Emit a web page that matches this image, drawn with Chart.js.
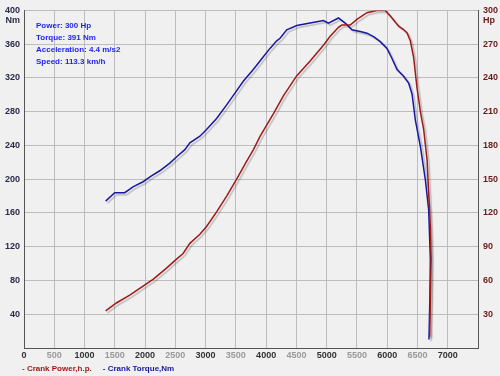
<!DOCTYPE html>
<html><head><meta charset="utf-8">
<script src="https://cdn.jsdelivr.net/npm/chart.js@4.4.1/dist/chart.umd.min.js"></script>
<style>html,body{margin:0;padding:0;background:#f0f0f0;overflow:hidden}</style>
</head><body>
<canvas id="c" width="500" height="376"></canvas>
<script>
// ---- data ----
const rpmTicks = [0,500,1000,1500,2000,2500,3000,3500,4000,4500,5000,5500,6000,6500,7000];
const torqueRpm = [1349,1498,1664,1801,1967,2106,2243,2409,2546,2657,2740,2906,3016,3182,3348,3485,3622,3788,3954,4064,4175,4230,4341,4507,4727,4947,5030,5195,5306,5417,5555,5665,5775,5886,5996,6079,6162,6271,6354,6410,6465,6548,6631,6685,6713,6705,6690];
const torqueNm  = [174,184,184,191,197,204,210,219,228,235,243,251,259,272,288,302,316,330,345,355,364,367,377,382,385,388,385,391,385,377,375,373,369,363,355,343,330,322,314,301,270,239,199,164,105,60,10];
const powerRpm = [1349,1526,1747,1967,2132,2354,2520,2629,2740,2906,3016,3182,3348,3457,3513,3679,3788,3899,4119,4285,4507,4727,4947,5058,5195,5252,5389,5500,5665,5831,5968,6051,6189,6271,6328,6382,6437,6493,6548,6603,6659,6685,6713,6725,6702];
const powerHp  = [33,40,47,55,61,71,79,84,93,101,108,121,135,145,150,166,176,188,208,224,242,255,269,277,285,287,287,292,298,300,300,295,286,283,280,273,258,231,210,194,167,138,108,79,10];
const infoLines = ['Power: 300 Hp','Torque: 391 Nm','Acceleration: 4.4 m/s2','Speed: 113.3 km/h'];
const legendItems = [{text:'- Crank Power,h.p.', color:'#a01818'},{text:'- Crank Torque,Nm', color:'#1818a0'}];

const FONT = "'Liberation Sans', Arial, sans-serif";
const torquePts = torqueRpm.map((r,i)=>({x:r,y:torqueNm[i]}));
const powerPts = powerRpm.map((r,i)=>({x:r,y:powerHp[i]}));

const shadowPlugin = {
  id:'shadow',
  beforeDatasetDraw(chart){ const c=chart.ctx; c.save(); c.shadowColor='rgba(0,0,0,0.22)'; c.shadowOffsetX=2; c.shadowOffsetY=2; c.shadowBlur=1; },
  afterDatasetDraw(chart){ chart.ctx.restore(); }
};
const bgPlugin = {
  id:'bg',
  beforeDraw(chart){ const c=chart.ctx; c.save(); c.fillStyle='#f0f0f0'; c.fillRect(0,0,chart.width,chart.height); c.restore(); }
};
const textPlugin = {
  id:'texts',
  afterDraw(chart){
    const c=chart.ctx, a=chart.chartArea;
    c.save();
    c.textBaseline='middle';
    c.font = "bold 8px " + FONT;
    c.fillStyle='#1f1ff5';
    c.textAlign='left';
    infoLines.forEach((t,i)=>c.fillText(t, 36, 26 + i*12));
    // unit labels under top ticks
    c.font = "bold 9px " + FONT;
    c.textAlign='right'; c.fillStyle='#2a2a4a';
    c.fillText('Nm', a.left-4, a.top+10);
    c.textAlign='left'; c.fillStyle='#6a1a1a';
    c.fillText('Hp', a.right+5, a.top+10);
    // legend
    c.font = "bold 8px " + FONT;
    let x = 22;
    legendItems.forEach(it=>{ c.fillStyle=it.color; c.fillText(it.text, x, 369); x += c.measureText(it.text).width + 11; });
    c.restore();
  }
};

new Chart(document.getElementById('c'), {
  type:'line',
  data:{ datasets:[
    {label:'Crank Power,h.p.', data:powerPts, yAxisID:'y1', borderColor:'#a01818', borderWidth:1.5, pointRadius:0, tension:0, fill:false},
    {label:'Crank Torque,Nm', data:torquePts, yAxisID:'y', borderColor:'#1818a0', borderWidth:1.5, pointRadius:0, tension:0, fill:false}
  ]},
  options:{
    responsive:false, animation:false, devicePixelRatio:1,
    layout:{padding:{top:10,bottom:17,left:0,right:0}},
    plugins:{legend:{display:false}, tooltip:{enabled:false}},
    scales:{
      x:{type:'linear', min:0, max:7500,
        afterBuildTicks(s){ s.ticks = rpmTicks.concat([7500]).map(v=>({value:v})); },
        afterFit(s){ s.height = 11; },
        grid:{color:'#bdbdbd', drawTicks:false, lineWidth:1},
        border:{color:'#555', width:1},
        ticks:{autoSkip:false, maxRotation:0, padding:2, font:{family:FONT, size:9, weight:'bold'},
          color:(ctx)=> (ctx.tick && ctx.tick.value % 1000 === 0) ? '#333' : '#999',
          callback:(v)=> v===7500 ? '' : String(v)}
      },
      y:{position:'left', min:0, max:400,
        ticks:{stepSize:40, padding:4, font:{family:FONT, size:9, weight:'bold'}, color:'#2a2a4a',
          callback:(v)=> v===0 ? '' : String(v)},
        afterFit(s){ s.width = 24; },
        grid:{color:'#bdbdbd', drawTicks:false},
        border:{color:'#555', width:1}
      },
      y1:{position:'right', min:0, max:300,
        ticks:{stepSize:30, padding:5, font:{family:FONT, size:9, weight:'bold'}, color:'#6a1a1a',
          callback:(v)=> v===0 ? '' : String(v)},
        afterFit(s){ s.width = 22; },
        grid:{drawOnChartArea:false, drawTicks:false},
        border:{color:'#555', width:1}
      }
    }
  },
  plugins:[bgPlugin, shadowPlugin, textPlugin]
});
</script>
</body></html>
